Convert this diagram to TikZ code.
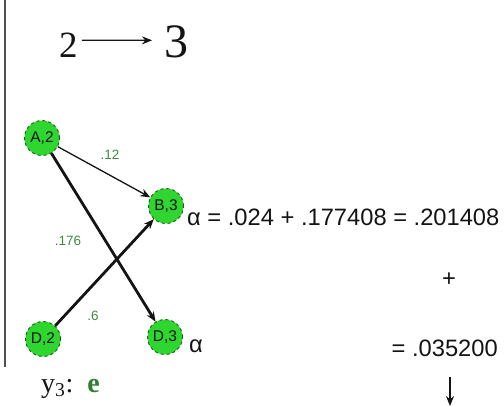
\documentclass[tikz,border=0pt]{standalone}
\usepackage{fontspec}
\setmainfont{Liberation Serif}
\setsansfont{Liberation Sans}
\usetikzlibrary{arrows.meta}
\definecolor{nodefill}{HTML}{2FD62F}
\definecolor{nodeline}{HTML}{1B5E1B}
\definecolor{weight}{HTML}{3C8C3C}
\definecolor{emit}{HTML}{2E7D32}
\definecolor{ink}{HTML}{141414}
\definecolor{rule}{HTML}{505050}
\tikzset{
  state/.style={circle, fill=nodefill, draw=nodeline, dashed, line width=0.9pt,
                minimum size=35pt, inner sep=0pt, text=ink,
                font=\sffamily\fontsize{15.5}{15.5}\selectfont},
  wt/.style={inner sep=0pt, text=weight, font=\sffamily\fontsize{13.5}{13.5}\selectfont},
  calc/.style={inner sep=0pt, text=ink, font=\sffamily\fontsize{23.7}{25}\selectfont},
  big/.style={inner sep=0pt, text=ink, anchor=base west},
  thin arrow/.style={-{Stealth[length=10pt, width=8pt]}, line width=1.3pt, draw=ink},
  thick arrow/.style={thin arrow, line width=2.8pt},
}

\begin{document}
\begin{tikzpicture}[x=1pt, y=-1pt]
  \useasboundingbox (0,0) rectangle (504,407);
  \draw[rule, line width=2pt] (5,0) -- (5,367);

  % time step
  \node[big, font=\fontsize{37}{37}\selectfont] (two) at (59,57) {2};
  \node[big, font=\fontsize{48}{48}\selectfont] (three) at (164,57) {3};
  \draw[thin arrow, line width=1.2pt] ([shift={(4,-4.5)}]two.east) -- ([shift={(-12,-1)}]three.west);

  % states
  \node[state] (a2) at (42,138) {A,2};
  \node[state] (b3) at (166,206) {B,3};
  \node[state] (d2) at (43,339) {D,2};
  \node[state] (d3) at (165,337) {D,3};

  \draw[thin arrow] (a2) -- (b3);
  \draw[thick arrow] (a2) -- (d3);
  \draw[thick arrow] (d2) -- (b3);

  \node[wt] (w12) at (110,155) {.12};
  \node[wt] (w176) at (68,241) {.176};
  \node[wt] (w6) at (93,316) {.6};

  % forward values
  \node[calc, anchor=west] (alphab) at (187,217) {α = .024 + .177408 = .201408};
  \node[calc] (plus) at (449,280) {+};
  \node[calc] (alphad) at (196,346) {α};
  \node[calc, anchor=east] (sum) at (498,348) {= .035200};
  \coordinate (next) at (450,406);
  \draw[thin arrow] ([yshift=-20pt]sum.south -| next) -- (next);

  \node[big, font=\fontsize{28}{28}\selectfont] (obs) at (41,392)
    {y\textsubscript{3}:\hspace{14pt}\textcolor{emit}{\textbf{e}}};
\end{tikzpicture}
\end{document}
